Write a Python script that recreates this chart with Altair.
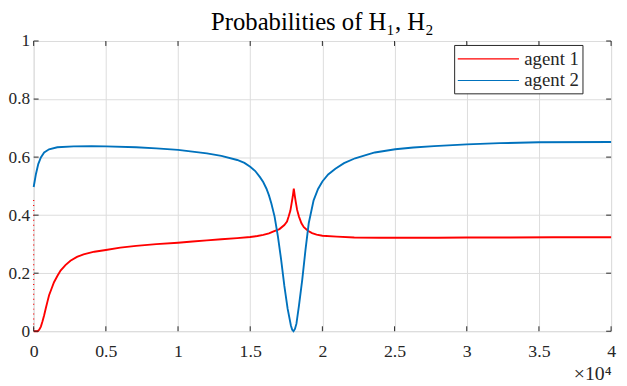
import altair as alt
import pandas as pd

# ---- data ----
red_x = [0, 100, 273, 386, 500, 614, 727, 841, 955, 1068,
         1250, 1409, 1650, 1864, 2200, 2546, 3000, 3455, 4200, 5000,
         6000, 7094, 8500, 10000, 11000, 12000, 13000, 14101, 15000, 15500,
         15905, 16300, 16581, 17027, 17365, 17550, 17662, 17780, 17865, 17950,
         18020, 18090, 18155, 18250, 18378, 18550, 18716, 19000, 19284, 19600,
         20000, 21000, 22209, 24000, 26000, 28000, 30000, 33000, 36000, 40000]
red_y = [0.0, 0.0, 0.0, 0.005, 0.016, 0.034, 0.055, 0.079, 0.102, 0.124,
         0.148, 0.169, 0.191, 0.209, 0.228, 0.243, 0.256, 0.265, 0.274, 0.280,
         0.288, 0.294, 0.300, 0.305, 0.309, 0.313, 0.317, 0.321, 0.3245, 0.328,
         0.332, 0.337, 0.3435, 0.352, 0.366, 0.378, 0.395, 0.415, 0.440, 0.465,
         0.491, 0.466, 0.446, 0.418, 0.395, 0.372, 0.3585, 0.346, 0.338, 0.333,
         0.329, 0.326, 0.323, 0.322, 0.322, 0.322, 0.323, 0.323, 0.324, 0.324]

blue_x = [0, 159, 318, 500, 727, 1068, 1637, 2773, 4000, 5000,
          7094, 8500, 10000, 11000, 12000, 13000, 14101, 14600, 15000, 15350,
          15676, 15900, 16128, 16300, 16466, 16689, 16919, 17142, 17365, 17595,
          17818, 17910, 18000, 18100, 18203, 18378, 18608, 18831, 19054, 19392,
          19700, 20000, 20400, 20900, 21500, 22268, 23000, 23634, 25047, 26300,
          27732, 30000, 32290, 35000, 40000]
blue_y = [0.497, 0.542, 0.576, 0.599, 0.616, 0.627, 0.634, 0.637, 0.638, 0.637,
          0.634, 0.630, 0.625, 0.619, 0.613, 0.604, 0.590, 0.580, 0.567, 0.552,
          0.531, 0.514, 0.491, 0.468, 0.440, 0.395, 0.327, 0.247, 0.156, 0.077,
          0.020, 0.005, 0.0, 0.008, 0.026, 0.088, 0.179, 0.281, 0.372, 0.451,
          0.490, 0.516, 0.540, 0.560, 0.579, 0.596, 0.607, 0.616, 0.627, 0.633,
          0.638, 0.644, 0.648, 0.651, 0.652]

# initial transient of agent 1 (drawn as sparse dots at x = 0)
red_start_x = [0, 0]
red_start_y = [0.452, 0.0]

series_names = ["agent 1", "agent 2"]
series_colors = ["#ff0000", "#0072bd"]

x_ticks = [0, 5000, 10000, 15000, 20000, 25000, 30000, 35000, 40000]
y_ticks = [0, 0.2, 0.4, 0.6, 0.8, 1.0]

title_text = "Probabilities of H\u2081, H\u2082"
x_exponent = "\u00d710\u2074"

FONT = "Liberation Serif"
W, H = 585, 294

# ---- tables ----
lines_df = pd.concat([
    pd.DataFrame({"x": red_x, "y": red_y, "series": series_names[0],
                  "i": range(len(red_x))}),
    pd.DataFrame({"x": blue_x, "y": blue_y, "series": series_names[1],
                  "i": range(len(blue_x))}),
], ignore_index=True)
start_df = pd.DataFrame({"x": red_start_x, "y": red_start_y})
xt_df = pd.DataFrame({"x": x_ticks})
yt_df = pd.DataFrame({"y": y_ticks})

x_scale = alt.Scale(domain=[0, 40000], nice=False, zero=False)
y_scale = alt.Scale(domain=[0, 1], nice=False)

x_axis = alt.Axis(values=x_ticks, labelExpr="datum.value / 10000 + ''",
                  title=x_exponent)
y_axis = alt.Axis(values=y_ticks, labelExpr="datum.value + ''", title=None)

# legend line: custom path from -r to 5r, r = sqrt(size)/2  -> 3*sqrt(size) long
leg_size = 427
lines = alt.Chart(lines_df).mark_line(strokeWidth=1.9).encode(
    x=alt.X("x:Q", scale=x_scale, axis=x_axis),
    y=alt.Y("y:Q", scale=y_scale, axis=y_axis),
    color=alt.Color("series:N",
                    scale=alt.Scale(domain=series_names, range=series_colors),
                    legend=alt.Legend(title=None, orient="none",
                                      legendX=426, legendY=4,
                                      symbolType="M-1,0H5", symbolSize=leg_size,
                                      symbolStrokeWidth=1.2,
                                      labelFont=FONT, labelFontSize=19,
                                      labelColor="#262626", labelOffset=46,
                                      padding=3, rowPadding=1,
                                      strokeColor="#262626", fillColor="white")),
    order="i:Q",
)

start = alt.Chart(start_df).mark_line(color="#ff0000", strokeWidth=1.2,
                                      strokeDash=[1, 4]).encode(
    x=alt.X("x:Q", scale=x_scale, title=x_exponent),
    y=alt.Y("y:Q", scale=y_scale, title=None),
)

tick_len = 5
xt_bottom = alt.Chart(xt_df).mark_rule(color="#262626").encode(
    x=alt.X("x:Q", scale=x_scale, title=x_exponent),
    y=alt.value(H), y2=alt.value(H - tick_len))
xt_top = alt.Chart(xt_df).mark_rule(color="#262626").encode(
    x=alt.X("x:Q", scale=x_scale, title=x_exponent),
    y=alt.value(0), y2=alt.value(tick_len))
yt_left = alt.Chart(yt_df).mark_rule(color="#262626").encode(
    y=alt.Y("y:Q", scale=y_scale, title=None),
    x=alt.value(0), x2=alt.value(tick_len))
yt_right = alt.Chart(yt_df).mark_rule(color="#262626").encode(
    y=alt.Y("y:Q", scale=y_scale, title=None),
    x=alt.value(W), x2=alt.value(W - tick_len))

chart = alt.layer(lines, start, xt_bottom, xt_top, yt_left, yt_right).properties(
    width=W, height=H,
    title=alt.TitleParams(title_text, font=FONT, fontSize=25,
                          fontWeight="normal", color="black", offset=-3),
    autosize=alt.AutoSizeParams(type="none"),
    padding={"left": 26, "top": 31, "right": 8, "bottom": 50},
).configure_view(stroke="#262626", strokeWidth=1).configure(
    background="white", font=FONT
).configure_axis(
    labelFont=FONT, labelColor="#262626", ticks=False, domain=False,
    grid=True, gridColor="#dcdcdc", labelFlush=False,
    titleFont=FONT, titleFontWeight="normal", titleColor="#262626",
).configure_axisX(
    labelFontSize=18, labelPadding=12, titleFontSize=20, titlePadding=3,
    titleAnchor="end", titleAlign="right",
).configure_axisY(
    labelFontSize=17.5, labelPadding=4,
)

chart.save("out.html", embed_options={"renderer": "svg", "actions": False})
